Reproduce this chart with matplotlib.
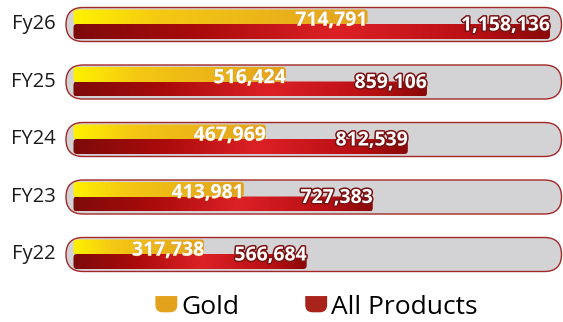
import numpy as np
import matplotlib
matplotlib.use("Agg")
import matplotlib.pyplot as plt
from matplotlib.colors import LinearSegmentedColormap
from matplotlib.patches import FancyBboxPatch, PathPatch, Patch
from matplotlib.path import Path
from matplotlib.legend_handler import HandlerPatch
import matplotlib.patheffects as pe

years = ["Fy26", "FY25", "FY24", "FY23", "Fy22"]
gold = [714791, 516424, 467969, 413981, 317738]
all_products = [1158136, 859106, 812539, 727383, 566684]

W_PX, H_PX = 563, 322
X0_PX = 73.5          # where zero sits
XMAX_PX = 550         # where the largest bar ends
ROW0_PX, ROW_PX = 24.5, 57.5

plt.rcParams["font.family"] = ["Open Sans", "DejaVu Sans"]

fig = plt.figure(figsize=(W_PX / 100, H_PX / 100), dpi=100)
ax = fig.add_axes([0, 0, 1, 1])
ax.set_axis_off()

# data units per pixel on each axis
ux = max(all_products) / (XMAX_PX - X0_PX)
uy = 1 / ROW_PX
aspect = uy / ux
xlim = (-X0_PX * ux, (W_PX - X0_PX) * ux)
ylim = ((H_PX - ROW0_PX) / ROW_PX, -ROW0_PX / ROW_PX)

gold_cmap = LinearSegmentedColormap.from_list(
    "gold", [(0, "#fff200"), (0.3, "#f4c813"), (1, "#e3a21e")])
red_cmap = LinearSegmentedColormap.from_list(
    "red", [(0, "#7e0b0b"), (0.25, "#a80a0a"), (0.55, "#dc2126"),
            (0.85, "#b80f14"), (1, "#8a0909")])
grad = np.linspace(0, 1, 256)[None, :]


def rounded(x, y, w, h, r_px, **kw):
    p = FancyBboxPatch((x, y), w, h,
                       boxstyle=f"round,pad=0,rounding_size={r_px * ux}",
                       mutation_aspect=aspect, **kw)
    ax.add_patch(p)
    return p


def gradient_bar(x1, y0, y1, cmap):
    p = rounded(0, y0, x1, y1 - y0, 3.5, facecolor="none", edgecolor="none")
    im = ax.imshow(grad, cmap=cmap, extent=(0, x1, y1, y0), aspect="auto",
                   interpolation="bilinear", zorder=2)
    im.set_clip_path(p)


for i, (yr, g, a) in enumerate(zip(years, gold, all_products)):
    # grey track
    rounded((66 - X0_PX) * ux, i - 17 * uy, (561.5 - 66) * ux, 34 * uy, 17,
            facecolor="#d3d3d6", edgecolor="#a32727", linewidth=1.0, zorder=1)

    gradient_bar(a, i - 0.5 * uy, i + 14.5 * uy, red_cmap)
    gradient_bar(g, i - 15 * uy, i, gold_cmap)

    ax.text((55.5 - X0_PX) * ux, i, yr, ha="right", va="center",
            fontsize=14.5, color="#1a1a1a")
    ax.text(g, i - 4 * uy, f"{g:,}", ha="right", va="center", fontsize=14,
            fontweight="bold", color="white", zorder=5,
            path_effects=[pe.withStroke(linewidth=0.6, foreground="#d9a23a")])
    ax.text(a, i + 1 * uy, f"{a:,}", ha="right", va="center", fontsize=14,
            fontweight="bold", color="white", zorder=5,
            path_effects=[pe.withStroke(linewidth=2.2, foreground="#7b1212")])

ax.set_xlim(*xlim)
ax.set_ylim(*ylim)


def cup(legend, orig_handle, xdescent, ydescent, width, height, fontsize):
    x0, y0 = -xdescent, -ydescent
    x1, y1 = x0 + width, y0 + height
    r = height * 0.45
    verts = [(x0, y1), (x1, y1), (x1, y0 + r), (x1, y0), (x1 - r, y0),
             (x0 + r, y0), (x0, y0), (x0, y0 + r), (x0, y1)]
    codes = [Path.MOVETO, Path.LINETO, Path.LINETO, Path.CURVE3, Path.CURVE3,
             Path.LINETO, Path.CURVE3, Path.CURVE3, Path.CLOSEPOLY]
    return PathPatch(Path(verts, codes))


handles = [Patch(facecolor="#e3a21c", edgecolor="none"),
           Patch(facecolor="#a8241a", edgecolor="none")]
ax.legend(handles, ["Gold", "All Products"], loc="center",
          bbox_to_anchor=(316.5 / W_PX, 1 - 307 / H_PX), ncol=2,
          frameon=False, fontsize=19, handlelength=0.83, handleheight=0.57,
          handletextpad=0.15, columnspacing=2.5, borderpad=0,
          handler_map={Patch: HandlerPatch(patch_func=cup)})

fig.savefig("out.png", dpi=100)
